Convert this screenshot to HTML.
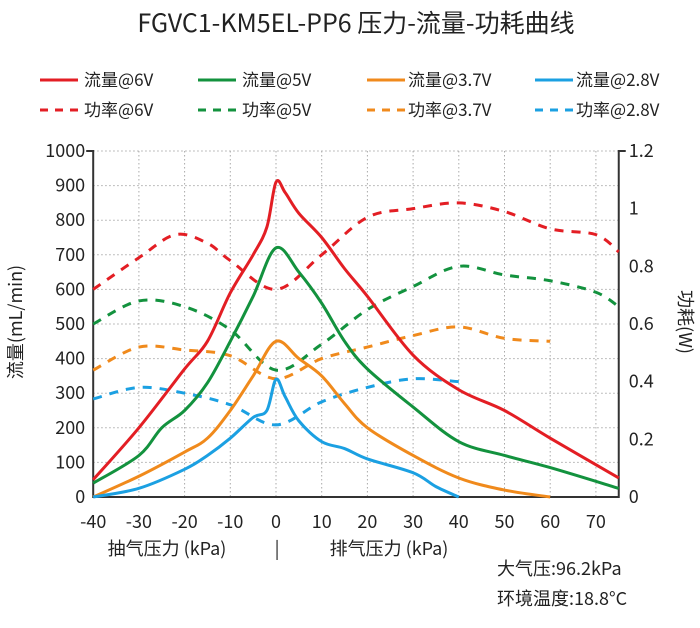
<!DOCTYPE html>
<html><head><meta charset="utf-8"><style>
body{margin:0;background:#fff;}
svg text{font-family:"Noto Sans CJK SC","Liberation Sans",sans-serif;fill:#222;}
</style></head><body>
<svg id="s" width="700" height="623" xmlns="http://www.w3.org/2000/svg">
<text x="356" y="32" font-size="25" text-anchor="middle">FGVC1-KM5EL-PP6 压力-流量-功耗曲线</text>
<g id="grid"></g>
<g id="curves"></g>
<g font-size="17">
<line x1="40" y1="80" x2="78" y2="80" stroke="#e31e24" stroke-width="3"/><text x="84" y="86">流量@6V</text>
<line x1="198" y1="80" x2="236" y2="80" stroke="#13923e" stroke-width="3"/><text x="242" y="86">流量@5V</text>
<line x1="367" y1="80" x2="405" y2="80" stroke="#f08a1c" stroke-width="3"/><text x="408" y="86">流量@3.7V</text>
<line x1="535" y1="80" x2="573" y2="80" stroke="#1ba0e2" stroke-width="3"/><text x="576" y="86">流量@2.8V</text>
<line x1="40" y1="110" x2="78" y2="110" stroke="#e31e24" stroke-width="3" stroke-dasharray="8,7"/><text x="84" y="116">功率@6V</text>
<line x1="198" y1="110" x2="236" y2="110" stroke="#13923e" stroke-width="3" stroke-dasharray="8,7"/><text x="242" y="116">功率@5V</text>
<line x1="367" y1="110" x2="405" y2="110" stroke="#f08a1c" stroke-width="3" stroke-dasharray="8,7"/><text x="408" y="116">功率@3.7V</text>
<line x1="535" y1="110" x2="573" y2="110" stroke="#1ba0e2" stroke-width="3" stroke-dasharray="8,7"/><text x="576" y="116">功率@2.8V</text>
</g>
<g font-size="18">
<text x="167" y="555" text-anchor="middle">抽气压力 (kPa)</text>
<text x="277" y="555" text-anchor="middle">|</text>
<text x="389" y="555" text-anchor="middle">排气压力 (kPa)</text>
<text x="497" y="575">大气压:96.2kPa</text>
<text x="497" y="605">环境温度:18.8°C</text>
<text transform="translate(22,322) rotate(-90)" text-anchor="middle">流量(mL/min)</text>
<text transform="translate(679,322) rotate(90)" text-anchor="middle">功耗(W)</text>
</g>
</svg>
<script>
const X=v=>276+4.57*v, Y=v=>497-0.346*v;
const NS="http://www.w3.org/2000/svg";
function el(p,t,a,txt){const e=document.createElementNS(NS,t);for(const k in a)e.setAttribute(k,a[k]);if(txt!==undefined)e.textContent=txt;document.getElementById(p).appendChild(e);}
for(let v=-30;v<=70;v+=10)el("grid","line",{x1:X(v),x2:X(v),y1:Y(1000),y2:Y(0),stroke:"#aaa","stroke-dasharray":"1.5,2.5"});
for(let v=100;v<=1000;v+=100)el("grid","line",{x1:X(-40),x2:X(75),y1:Y(v),y2:Y(v),stroke:"#aaa","stroke-dasharray":"1.5,2.5"});
el("grid","path",{d:`M${X(-40)-7} ${Y(1000)}H${X(-40)}V${Y(0)}H${X(75)}V${Y(1000)}H${X(75)+7}`,fill:"none",stroke:"#333","stroke-width":2});
for(let v=0;v<=1000;v+=100){el("grid","text",{x:X(-40)-8,y:Y(v)+6,"text-anchor":"end","font-size":18},v);}
for(let w=0;w<=6;w++){const v=w*0.2;el("grid","text",{x:X(75)+10,y:Y(v*1000/1.2)+6,"font-size":18},w==0?"0":v.toFixed(1).replace(/^1\.0$/,"1"));}
for(let v=-40;v<=70;v+=10)el("grid","text",{x:X(v),y:528,"text-anchor":"middle","font-size":18},v);
function path(pts){const p=pts.map(a=>[X(a[0]),Y(a[1])]);let d=`M${p[0][0]} ${p[0][1]}`;
for(let i=0;i<p.length-1;i++){const p0=p[i-1]||p[i],p1=p[i],p2=p[i+1],p3=p[i+2]||p2;
d+=`C${p1[0]+(p2[0]-p0[0])/6} ${p1[1]+(p2[1]-p0[1])/6} ${p2[0]-(p3[0]-p1[0])/6} ${p2[1]-(p3[1]-p1[1])/6} ${p2[0]} ${p2[1]}`;}return d;}
const C={r:"#e31e24",g:"#13923e",o:"#f08a1c",b:"#1ba0e2"};
const W=a=>a.map(p=>[p[0],p[1]*1000/1.2]);
const dashed=[
["r",W([[-40,0.72],[-30,0.83],[-22,0.91],[-15,0.88],[-10,0.82],[0,0.72],[10,0.84],[20,0.97],[30,1.0],[40,1.02],[50,0.99],[60,0.93],[70,0.91],[75,0.85]])],
["g",W([[-40,0.6],[-30,0.68],[-20,0.66],[-10,0.58],[0,0.44],[10,0.53],[20,0.65],[30,0.73],[40,0.8],[50,0.77],[60,0.75],[70,0.71],[75,0.66]])],
["o",W([[-40,0.44],[-30,0.52],[-20,0.51],[-10,0.49],[0,0.41],[10,0.48],[20,0.52],[30,0.56],[40,0.59],[50,0.55],[60,0.54]])],
["b",W([[-40,0.34],[-30,0.38],[-20,0.36],[-10,0.32],[0,0.25],[10,0.33],[20,0.38],[30,0.41],[40,0.4]])]];
const solid=[
["r",[[-40,50],[-30,200],[-20,370],[-15,450],[-10,590],[-5,700],[-2,780],[0,910],[2,880],[5,820],[10,750],[15,660],[20,580],[30,410],[40,310],[50,250],[60,170],[75,55]]],
["g",[[-40,40],[-30,120],[-25,200],[-20,250],[-15,330],[-10,450],[-5,580],[0,720],[5,650],[10,560],[15,450],[20,370],[30,260],[40,160],[50,120],[60,85],[75,25]]],
["o",[[-40,0],[-30,60],[-20,130],[-15,170],[-10,250],[-5,350],[0,450],[5,400],[10,350],[15,270],[20,200],[30,120],[40,55],[50,20],[60,0]]],
["b",[[-40,0],[-30,25],[-20,80],[-15,120],[-10,170],[-5,230],[-2,250],[0,340],[2,290],[5,220],[10,160],[15,140],[20,110],[30,70],[35,30],[40,0]]]];
dashed.forEach(([c,p])=>el("curves","path",{d:path(p),fill:"none",stroke:C[c],"stroke-width":3,"stroke-dasharray":"9,8"}));
solid.forEach(([c,p])=>el("curves","path",{d:path(p),fill:"none",stroke:C[c],"stroke-width":3}));
</script>
</body></html>
